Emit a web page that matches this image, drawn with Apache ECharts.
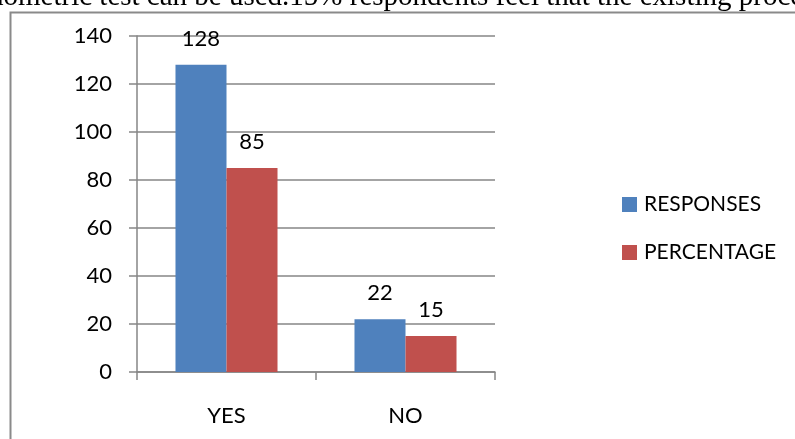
<!DOCTYPE html>
<html>
<head>
<meta charset="utf-8">
<script src="https://cdn.jsdelivr.net/npm/echarts@6/dist/echarts.min.js"></script>
<style>
html,body{margin:0;padding:0;background:#fff;}
#c{width:795px;height:439px;}
</style>
</head>
<body>
<div id="c"></div>
<script>
var categories = ['YES', 'NO'];
var responses = [128, 22];
var percentage = [85, 15];
var seriesNames = ['RESPONSES', 'PERCENTAGE'];
var yTicks = [0, 20, 40, 60, 80, 100, 120, 140];
var topText = 'hometric test can be used.15% respondents feel that the existing proce';

var chart = echarts.init(document.getElementById('c'), null, {renderer: 'canvas'});
var FONT = 'Lato';
var gray = '#868686';
chart.setOption({
  animation: false,
  backgroundColor: '#fff',
  grid: {left: 137, right: 300, top: 36, bottom: 67, containLabel: false},
  legend: {
    orient: 'vertical', left: 617, top: 189,
    itemWidth: 15, itemHeight: 15, itemGap: 27,
    icon: 'rect',
    textStyle: {fontFamily: FONT, fontSize: 21, color: '#000', padding: [0, 0, 0, 2], lineHeight: 21},
    data: seriesNames
  },
  xAxis: {
    type: 'category', data: categories,
    axisLine: {lineStyle: {color: gray, width: 1.5}},
    axisTick: {show: true, length: 8, lineStyle: {color: gray, width: 1.5}},
    axisLabel: {fontFamily: FONT, fontSize: 22, color: '#000', margin: 33}
  },
  yAxis: {
    type: 'value', min: yTicks[0], max: yTicks[yTicks.length - 1], interval: 20,
    axisLine: {show: true, lineStyle: {color: gray, width: 1.5}},
    axisTick: {show: true, length: 8, lineStyle: {color: gray, width: 1.5}},
    splitLine: {lineStyle: {color: gray, width: 1.5}},
    axisLabel: {fontFamily: FONT, fontSize: 22, color: '#000', margin: 25}
  },
  series: [
    {
      name: seriesNames[0], type: 'bar', data: responses,
      barGap: '0%', barCategoryGap: '43%',
      itemStyle: {color: '#4F81BD'},
      label: {show: true, position: 'top', distance: 15, fontFamily: FONT, fontSize: 22, color: '#000'}
    },
    {
      name: seriesNames[1], type: 'bar', data: percentage,
      barGap: '0%', barCategoryGap: '43%',
      itemStyle: {color: '#C0504D'},
      label: {show: true, position: 'top', distance: 15, fontFamily: FONT, fontSize: 22, color: '#000'}
    }
  ],
  graphic: [
    {
      type: 'polyline', silent: true,
      shape: {points: [[10.5, 439], [10.5, 12.5], [795, 12.5]]},
      style: {stroke: '#8a8a8a', lineWidth: 2, fill: null}
    },
    {
      type: 'text', left: -11, top: -17, silent: true,
      style: {text: topText, font: '29px "Liberation Serif"', fill: '#000'}
    }
  ]
});
</script>
</body>
</html>
